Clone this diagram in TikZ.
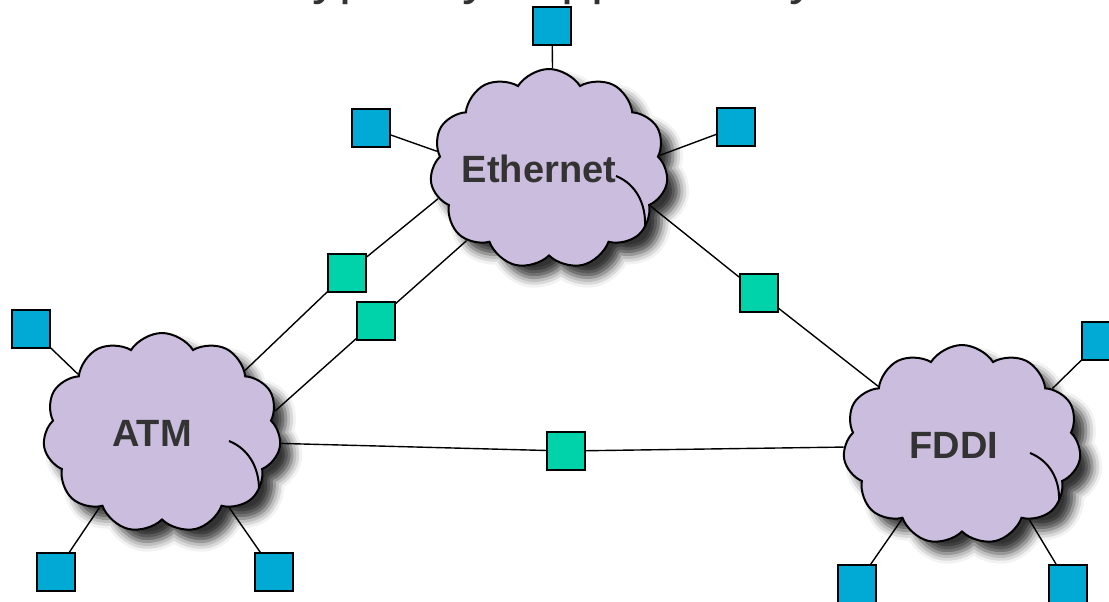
\documentclass[tikz,border=0pt]{standalone}
\usepackage{fontspec}
\setmainfont{Liberation Sans}
\usetikzlibrary{shapes.symbols, shadows.blur, positioning}
\definecolor{netcloud}{RGB}{203,189,221}
\definecolor{hostblue}{RGB}{0,170,212}
\definecolor{gwgreen}{RGB}{0,210,170}
\definecolor{labelgray}{RGB}{51,51,51}
\tikzset{
	net/.style={cloud, cloud puffs=11, cloud puff arc=115, aspect=1.2,
		draw=black, line width=1pt, fill=netcloud,
		minimum width=119pt, minimum height=100pt, inner sep=0pt,
		text=labelgray, font=\bfseries\fontsize{19}{19}\selectfont,
		blur shadow={shadow xshift=6pt, shadow yshift=-6pt,
			shadow blur radius=5pt, shadow opacity=80}},
	host/.style={draw=black, line width=0.8pt, fill=hostblue,
		minimum size=19pt, inner sep=0pt},
	gw/.style={host, fill=gwgreen},
	link/.style={line width=0.7pt},
	curl/.style={line width=1pt}
}

\begin{document}
\begin{tikzpicture}[x=0.5pt, y=-0.5pt]
	\useasboundingbox (0,0) rectangle (1109,601);
	\clip (0,0) rectangle (1109,601);
	
	%% titulo cortado
	\node [anchor=base west, inner sep=0pt, text=labelgray,
		font=\fontsize{27}{27}\selectfont] (title) at (282,-7) {Typically supported by};
	
	%% Redes
	\node [net] (eth) at (549,169) {\hspace*{-10pt}Ethernet};
	\node [net] (atm) at (162,433) {\hspace*{-10pt}ATM};
	\node [net] (fddi) at (962,445) {\hspace*{-8pt}FDDI};
	
	%% rizos interiores
	\draw [curl] (616,176) .. controls (636,184) and (646,204) .. (645,226);
	\draw [curl] (229,441) .. controls (249,449) and (259,468) .. (259,489);
	\draw [curl] (1030,453) .. controls (1050,461) and (1060,480) .. (1059,501);
	
	%% Hosts
	\node [host] (e1) at (552,26) {};
	\node [host] (e2) at (371,128) {};
	\node [host] (e3) at (736,127) {};
	\node [host] (a1) at (31,329) {};
	\node [host] (a2) at (56,572) {};
	\node [host] (a3) at (274,572) {};
	\node [host] (f1) at (1101,341) {};
	\node [host] (f2) at (857,584) {};
	\node [host] (f3) at (1068,584) {};
	
	%% Gateways
	\node [gw] (g1) at (347,273) {};
	\node [gw] (g2) at (376,321) {};
	\node [gw] (g3) at (759,293) {};
	\node [gw] (g4) at (566,451) {};
	
	%% Enlaces
	\draw [link] (e1) -- (eth.88);
	\draw [link] (e2) -- (eth.171);
	\draw [link] (e3) -- (eth.7);
	\draw [link] (a1) -- (atm.145);
	\draw [link] (a2) -- (atm.230);
	\draw [link] (a3) -- (atm.312);
	\draw [link] (f1) -- (fddi.32);
	\draw [link] (f2) -- (fddi.231);
	\draw [link] (f3) -- (fddi.312);
	
	\draw [link] (atm.37) -- (g1) -- (eth.195);
	\draw [link] (atm.11) -- (g2) -- (eth.221);
	\draw [link] (eth.340) -- (g3) -- (fddi.145);
	\draw [link] (atm.355) -- (g4) -- (fddi.181);
\end{tikzpicture}
\end{document}
